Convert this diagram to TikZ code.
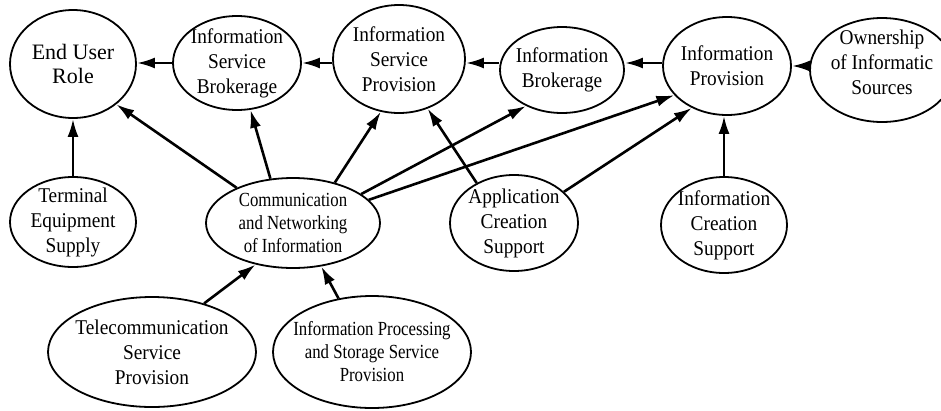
\documentclass[tikz,border=0pt]{standalone}
\usepackage{fontspec}
\setmainfont{Liberation Serif}
\newfontfamily\rolefamily{Liberation Serif}[FakeStretch=0.92]
\newfontfamily\narrowfamily{Liberation Serif}[FakeStretch=0.84]
\usepackage{tikz}
\usetikzlibrary{shapes,arrows.meta,positioning,calc}
\newcommand{\rolefont}{\rolefamily\fontsize{21}{25}\selectfont}
\newcommand{\smallrolefont}{\narrowfamily\fontsize{20}{23}\selectfont}
\tikzset{
  >={Latex[length=18pt,width=11pt]},
  rolenode/.style args={#1,#2}{
  ellipse,
  draw=black,
  line width=1.8pt,
  minimum width=#1pt,
  minimum height=#2pt,
  inner sep=0pt,
  },
  every label/.append style={align=center,font=\rolefont},
  small/.style={font=\smallrolefont},
  big/.style={font=\fontsize{22}{24}\selectfont},
  link/.style={->,line width=2.6pt}
}
\begin{document}
\begin{tikzpicture}[x=1pt,y=-1pt]
  \useasboundingbox (0,0) rectangle (941,410);

  % upper row of roles
  \node [rolenode={126,108},label={[big]center:End User\\Role}] (eur) at (73,64) {};
  \node [rolenode={128,94},label={center:Information\\Service\\Brokerage}] (isb) at (237,63) {};
  \node [rolenode={132,108},label={center:Information\\Service\\Provision}] (isp) at (399,59) {};
  \node [rolenode={124,86},label={center:Information\\Brokerage}] (ib) at (562,70) {};
  \node [rolenode={128,98},label={center:Information\\Provision}] (ip) at (727,66) {};
  \node [rolenode={144,104},label={[yshift=8pt]center:Ownership\\of Informatic\\Sources}] (own) at (882,70) {};

  % middle row
  \node [rolenode={126,90},label={center:Terminal\\Equipment\\Supply}] (tes) at (73,222) {};
  \node [rolenode={174,90},label={[small]center:Communication\\and Networking\\of Information}] (cni) at (293,223) {};
  \node [rolenode={128,96},label={center:Application\\Creation\\Support}] (acs) at (514,223) {};
  \node [rolenode={126,96},label={center:Information\\Creation\\Support}] (ics) at (724,225) {};

  % lower row
  \node [rolenode={208,110},label={center:Telecommunication\\Service\\Provision}] (tsp) at (152,352) {};
  \node [rolenode={198,112},label={[small]center:Information Processing\\and Storage Service\\Provision}] (ips) at (372,352) {};

  \draw [link] (isb.west) -- (eur.east |- isb.west);
  \draw [link] (isp.west |- isb.west) -- (isb.east);
  \draw [link] (ib.west |- isb.west) -- (isp.east |- isb.west);
  \draw [link] (ip.west |- isb.west) -- (ib.east |- isb.west);
  \draw [link] (own.west |- ip.east) -- (ip.east);

  \draw [link] (tes.north) -- (eur.south);
  \draw [link] (ics.north) -- (ip.south -| ics.north);

  \draw [link] (cni.148) -- (eur.-43);
  \draw [link] (cni.117) -- (isb.-74);
  \draw [link] (cni.44) -- (isp.-109);
  \draw [link] (cni.23) -- (ib.-135);
  \draw [link] (cni.17) -- (ip.-151);

  \draw [link] (acs.133) -- (isp.-60);
  \draw [link] (acs.32) -- (ip.-130);

  \draw [link] (tsp.43) -- (cni.-132);
  \draw [link] (ips.122) -- (cni.-57);
\end{tikzpicture}
\end{document}
